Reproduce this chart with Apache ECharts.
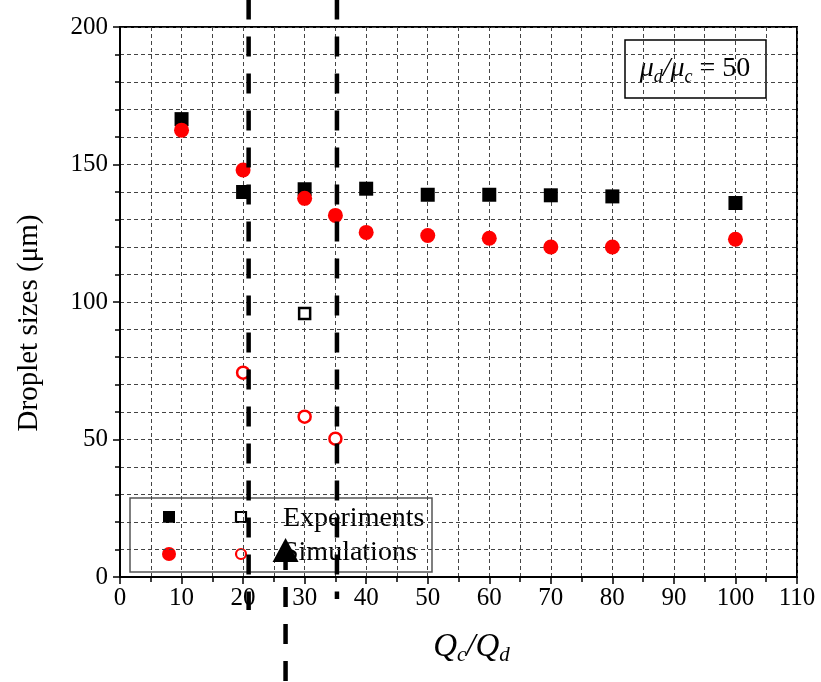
<!DOCTYPE html>
<html>
<head>
<meta charset="utf-8">
<script src="https://cdn.jsdelivr.net/npm/echarts@6/dist/echarts.min.js"></script>
<style>
  html, body { margin: 0; padding: 0; background: #fff; }
  #chart { width: 821px; height: 682px; }
</style>
</head>
<body>
<div id="chart"></div>
<script>
var dom = document.getElementById("chart");
var myChart = echarts.init(dom);

// Q_c/Q_d values and droplet sizes (um)
var expQ = [10, 20, 30, 40, 50, 60, 70, 80, 100];
var expSize = [166.5, 140, 141, 141.2, 139, 139, 138.8, 138.4, 136];
var expOpenQ = [30];
var expOpenSize = [95.8];
var simQ = [10, 20, 30, 35, 40, 50, 60, 70, 80, 100];
var simSize = [162.5, 148, 137.7, 131.5, 125.3, 124.2, 123.2, 120, 120, 122.8];
var simOpenQ = [20, 30, 35];
var simOpenSize = [74.3, 58.3, 50.3];

// thick dashed guide lines: [x, yTop, yBottom]
var guides = [[20.9, 210, -12], [35.25, 210, -8]];
var arrowLine = [26.9, 9.8, -40];

var serif = "'Liberation Serif', 'DejaVu Serif', serif";

function pairs(xs, ys) {
    return xs.map(function (x, i) { return [x, ys[i]]; });
}

var series = [
    {
        type: 'scatter', data: pairs(expQ, expSize),
        symbol: 'rect', symbolSize: 14,
        itemStyle: { color: '#000', opacity: 1 }, z: 3
    },
    {
        type: 'scatter', data: pairs(expOpenQ, expOpenSize),
        symbol: 'rect', symbolSize: 11,
        itemStyle: { color: '#fff', borderColor: '#000', borderWidth: 2.5, opacity: 1 }, z: 3
    },
    {
        type: 'scatter', data: pairs(simQ, simSize),
        symbol: 'circle', symbolSize: 15,
        itemStyle: { color: '#ff0000', opacity: 1 }, z: 3
    },
    {
        type: 'scatter', data: pairs(simOpenQ, simOpenSize),
        symbol: 'circle', symbolSize: 12,
        itemStyle: { color: '#fff', borderColor: '#ff0000', borderWidth: 2.5, opacity: 1 }, z: 3
    }
];

guides.forEach(function (g) {
    series.push({
        type: 'line', data: [[g[0], g[1]], [g[0], g[2]]],
        showSymbol: false, clip: false, silent: true, z: 10,
        lineStyle: { color: '#000', width: 4.5, type: [20, 17] }
    });
});
series.push({
    type: 'line', data: [[arrowLine[0], arrowLine[1]], [arrowLine[0], arrowLine[2]]],
    showSymbol: false, clip: false, silent: true, z: 10,
    lineStyle: { color: '#000', width: 4.5, type: [20, 17] }
});
series.push({
    type: 'scatter', data: [[arrowLine[0], arrowLine[1]]],
    symbol: 'triangle', symbolSize: [26, 24], clip: false, z: 11,
    itemStyle: { color: '#000', opacity: 1 }
});

var option = {
    animation: false,
    backgroundColor: '#fff',
    grid: {
        left: 120, right: 24, top: 27, bottom: 105,
        show: true, borderColor: '#000', borderWidth: 2, backgroundColor: 'transparent'
    },
    xAxis: {
        type: 'value', min: 0, max: 110, interval: 10,
        name: '{i|Q}{s|c}{i|/Q}{s|d}',
        nameLocation: 'middle', nameGap: 52,
        nameTextStyle: {
            padding: [0, 0, 0, 26],
            rich: {
                i: { fontFamily: serif, fontStyle: 'italic', fontSize: 33, color: '#000' },
                s: { fontFamily: serif, fontStyle: 'italic', fontSize: 21, color: '#000', padding: [16, 0, 0, 0] }
            }
        },
        axisLine: { lineStyle: { color: '#000', width: 2 } },
        axisTick: { length: 7, lineStyle: { color: '#000', width: 1.5 } },
        minorTick: { show: true, splitNumber: 2, length: 5, lineStyle: { color: '#000', width: 1.5 } },
        axisLabel: { fontFamily: serif, fontSize: 25, color: '#000', margin: 9 },
        splitLine: { show: true, lineStyle: { color: '#444', type: [4, 3], width: 1 } },
        minorSplitLine: { show: true, lineStyle: { color: '#444', type: [4, 3], width: 1 } }
    },
    yAxis: {
        type: 'value', min: 0, max: 200, interval: 50,
        name: 'Droplet sizes (μm)',
        nameLocation: 'middle', nameGap: 76,
        nameTextStyle: { fontFamily: serif, fontSize: 29, color: '#000', padding: [0, 42, 0, 0] },
        axisLine: { show: true, lineStyle: { color: '#000', width: 2 } },
        axisTick: { show: true, length: 7, lineStyle: { color: '#000', width: 1.5 } },
        minorTick: { show: true, splitNumber: 5, length: 5, lineStyle: { color: '#000', width: 1.5 } },
        axisLabel: { fontFamily: serif, fontSize: 25, color: '#000', margin: 12 },
        splitLine: { show: true, lineStyle: { color: '#444', type: [4, 3], width: 1 } },
        minorSplitLine: { show: true, lineStyle: { color: '#444', type: [4, 3], width: 1 } }
    },
    graphic: [
        {
            type: 'group', z: 5,
            children: [
                { type: 'rect', shape: { x: 130, y: 498, width: 302, height: 74 },
                  style: { fill: '#fff', stroke: '#555', lineWidth: 1.5 } },
                { type: 'rect', shape: { x: 163, y: 511, width: 12, height: 12 }, style: { fill: '#000' } },
                { type: 'rect', shape: { x: 236, y: 512, width: 10, height: 10 },
                  style: { fill: '#fff', stroke: '#000', lineWidth: 2.2 } },
                { type: 'text', x: 283, y: 519,
                  style: { text: 'Experiments', font: '28px ' + serif, fill: '#000', verticalAlign: 'middle' } },
                { type: 'circle', shape: { cx: 169, cy: 554, r: 7 }, style: { fill: '#ff0000' } },
                { type: 'circle', shape: { cx: 241, cy: 554, r: 5 },
                  style: { fill: '#fff', stroke: '#ff0000', lineWidth: 2.2 } },
                { type: 'text', x: 283, y: 553,
                  style: { text: 'Simulations', font: '28px ' + serif, fill: '#000', verticalAlign: 'middle' } }
            ]
        },
        {
            type: 'group', z: 5,
            children: [
                { type: 'rect', shape: { x: 625, y: 40, width: 141, height: 58 },
                  style: { fill: '#fff', stroke: '#000', lineWidth: 1.5 } },
                { type: 'text', x: 695, y: 69,
                  style: {
                      text: '{i|μ}{s|d}{i|/μ}{s|c}{n| = 50}',
                      align: 'center', verticalAlign: 'middle',
                      rich: {
                          i: { font: 'italic 28px ' + serif, fill: '#000' },
                          s: { font: 'italic 18px ' + serif, fill: '#000', padding: [16, 0, 0, 0] },
                          n: { font: '28px ' + serif, fill: '#000' }
                      }
                  } }
            ]
        }
    ],
    series: series
};

if (option && typeof option === "object") {
    myChart.setOption(option, true);
}
</script>
</body>
</html>
